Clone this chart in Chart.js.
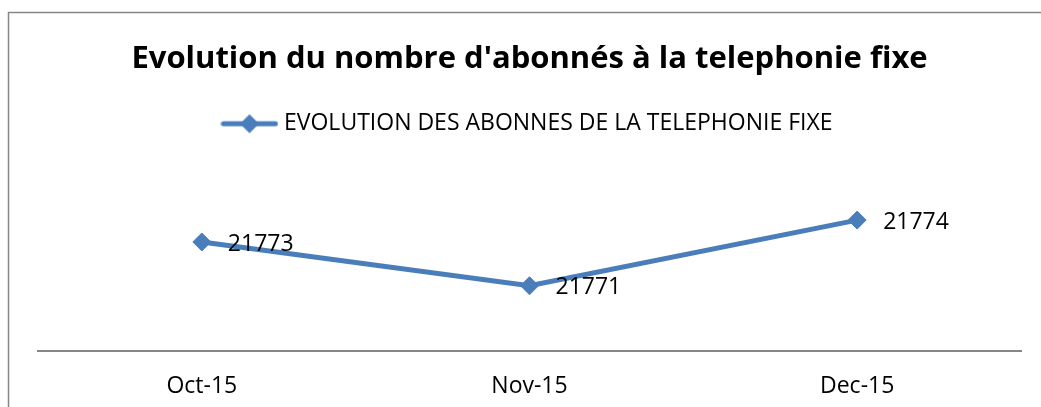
<!DOCTYPE html>
<html><head><meta charset="utf-8">
<script src="https://cdn.jsdelivr.net/npm/chart.js@4"></script>
<style>html,body{margin:0;padding:0;background:#fff;overflow:hidden}#wrap{width:1041px;height:407px;position:relative}</style>
</head><body><div id="wrap"><canvas id="c" width="1041" height="407"></canvas></div>
<script>
const categories = ['Oct-15', 'Nov-15', 'Dec-15'];
const subscribers = [21773, 21771, 21774];
const seriesName = 'EVOLUTION DES ABONNES DE LA TELEPHONIE FIXE';
const chartTitle = "Evolution du nombre d'abonnés à la telephonie fixe";
const yMin = 21768, yMax = 21775;

const BLUE = '#4a7ebb';
const FONT = "'Open Sans', 'Liberation Sans', sans-serif";

// legend swatch: line with diamond
const sw = document.createElement('canvas');
sw.width = 58; sw.height = 22;
(function(){
  const g = sw.getContext('2d');
  g.strokeStyle = BLUE; g.lineWidth = 5; g.lineCap = 'round';
  g.beginPath(); g.moveTo(3, 11); g.lineTo(55, 11); g.stroke();
  g.fillStyle = BLUE;
  g.beginPath(); g.moveTo(29, 1.5); g.lineTo(38.5, 11); g.lineTo(29, 20.5); g.lineTo(19.5, 11); g.closePath(); g.fill();
})();

const borderPlugin = {
  id: 'frame',
  beforeDraw(chart) {
    const ctx = chart.ctx;
    ctx.save();
    ctx.fillStyle = '#fff';
    ctx.fillRect(0, 0, chart.width, chart.height);
    ctx.strokeStyle = '#868686';
    ctx.lineWidth = 1.5;
    ctx.beginPath();
    ctx.moveTo(8.5, chart.height + 2);
    ctx.lineTo(8.5, 12.5);
    ctx.lineTo(chart.width + 2, 12.5);
    ctx.stroke();
    ctx.restore();
  }
};

const labelPlugin = {
  id: 'pointLabels',
  afterDatasetsDraw(chart) {
    const ctx = chart.ctx;
    const meta = chart.getDatasetMeta(0);
    ctx.save();
    ctx.font = "23px " + FONT;
    ctx.fillStyle = '#000';
    ctx.textAlign = 'left';
    ctx.textBaseline = 'middle';
    meta.data.forEach((pt, i) => {
      ctx.fillText(String(chart.data.datasets[0].data[i]), pt.x + 26, pt.y + 2);
    });
    ctx.restore();
  }
};

new Chart(document.getElementById('c'), {
  type: 'line',
  data: {
    labels: categories,
    datasets: [{
      label: seriesName,
      data: subscribers,
      borderColor: BLUE,
      backgroundColor: BLUE,
      borderWidth: 5,
      pointStyle: 'rectRot',
      pointRadius: 9,
      pointBorderWidth: 1,
      pointBackgroundColor: BLUE,
      pointBorderColor: BLUE,
      tension: 0
    }]
  },
  options: {
    responsive: false,
    animation: false,
    events: [],
    layout: { padding: { left: 38, right: 20, top: 12, bottom: 4 } },
    plugins: {
      title: {
        display: true,
        text: chartTitle,
        color: '#000',
        font: { family: FONT, size: 31, weight: 'bold' },
        padding: { top: 29, bottom: 24 }
      },
      legend: {
        display: true,
        weight: 1800,
        labels: {
          usePointStyle: true,
          pointStyle: sw,
          pointStyleWidth: 46,
          boxHeight: 22,
          color: '#000',
          font: { family: FONT, size: 23 },
          padding: 10
        }
      },
      subtitle: {
        display: true,
        text: '',
        font: { size: 10 },
        padding: { top: 21, bottom: 20 }
      },
      tooltip: { enabled: false }
    },
    scales: {
      x: {
        offset: true,
        grid: { display: false, drawTicks: true, tickLength: 18 },
        border: { display: true, color: '#868686', width: 2 },
        ticks: { color: '#000', font: { family: FONT, size: 23 }, padding: 3 }
      },
      y: {
        display: false,
        min: yMin,
        max: yMax
      }
    }
  },
  plugins: [borderPlugin, labelPlugin]
});
</script>
</body></html>
